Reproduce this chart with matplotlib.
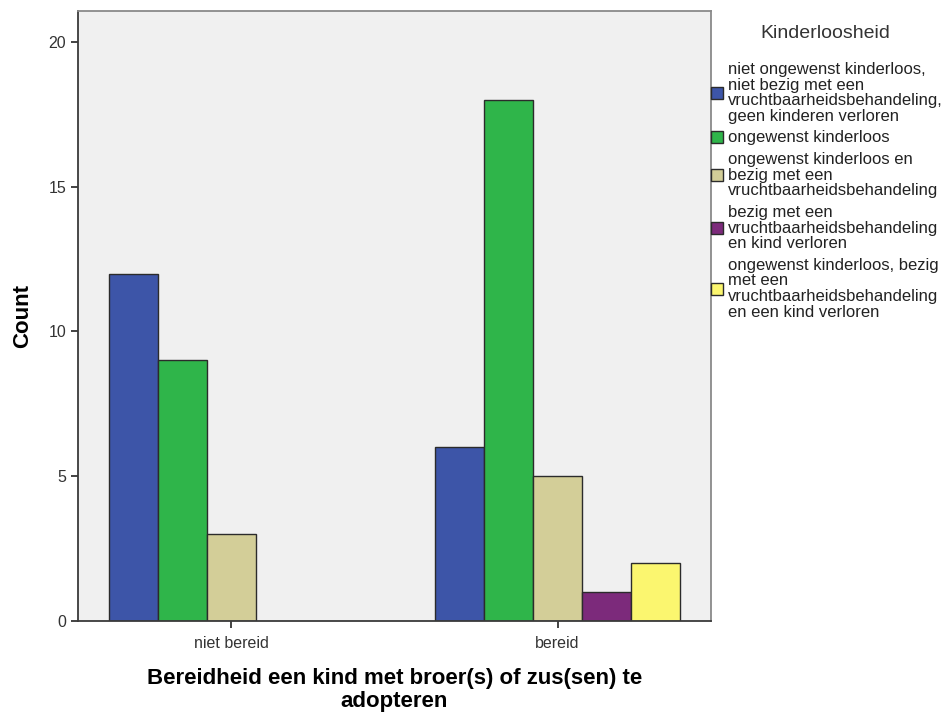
import numpy as np
import matplotlib.pyplot as plt
from matplotlib.patches import Patch

plt.rcParams['font.family'] = ['Liberation Sans', 'DejaVu Sans']

categories = ['niet bereid', 'bereid']
series_labels = [
    'niet ongewenst kinderloos,\nniet bezig met een\nvruchtbaarheidsbehandeling,\ngeen kinderen verloren',
    'ongewenst kinderloos',
    'ongewenst kinderloos en\nbezig met een\nvruchtbaarheidsbehandeling',
    'bezig met een\nvruchtbaarheidsbehandeling\nen kind verloren',
    'ongewenst kinderloos, bezig\nmet een\nvruchtbaarheidsbehandeling\nen een kind verloren',
]
niet_ongewenst = [12, 6]
ongewenst = [9, 18]
ongewenst_behandeling = [3, 5]
behandeling_verloren = [0, 1]
alles = [0, 2]
colors = ['#3d55a8', '#2fb54a', '#d3ce98', '#7c2a7b', '#fbf66f']

series = [niet_ongewenst, ongewenst, ongewenst_behandeling, behandeling_verloren, alles]

fig = plt.figure(figsize=(9.46, 7.16), dpi=100)
ax = fig.add_axes([78/946, 1 - 621/716, (711-78)/946, (621-11)/716])
ax.set_facecolor('#f0f0f0')

x = np.arange(len(categories))
w = 0.15
for i, (vals, c) in enumerate(zip(series, colors)):
    vals = np.array(vals)
    mask = vals > 0
    ax.bar(x[mask] + (i - 2) * w, vals[mask], width=w, color=c,
           edgecolor='#2b2b2b', linewidth=1)

ax.set_xlim(-0.47, 1.47)
ax.set_ylim(0, 21.07)
ax.set_yticks([0, 5, 10, 15, 20])
ax.set_xticks(x)
ax.set_xticklabels(categories)
ax.tick_params(axis='both', labelsize=11.5, labelcolor='#333333', color='#222222',
               length=5, width=1.2)
ax.tick_params(axis='x', pad=6)

for s in ['left', 'bottom']:
    ax.spines[s].set_color('#3a3a3a')
    ax.spines[s].set_linewidth(1.3)
for s in ['top', 'right']:
    ax.spines[s].set_color('#8a8a8a')
    ax.spines[s].set_linewidth(1.3)

ax.set_ylabel('Count', fontsize=16, fontweight='bold', labelpad=11)
ax.set_xlabel('Bereidheid een kind met broer(s) of zus(sen) te\nadopteren',
              fontsize=16, fontweight='bold', linespacing=1.1, labelpad=12)

# legend title drawn separately so the gap to the entries matches
fig.text(825/946, 1 - 33/716, 'Kinderloosheid', fontsize=14, color='#333333',
         ha='center', va='center')
handles = [Patch(facecolor=c, edgecolor='#2b2b2b', linewidth=1) for c in colors]
leg = fig.legend(handles, series_labels, loc='upper left',
                 bbox_to_anchor=(711/946, 1 - 62/716), borderaxespad=0,
                 frameon=False, fontsize=12, handlelength=0.72, handleheight=0.72,
                 handletextpad=0.3, labelspacing=0.4, borderpad=0)
for t in leg.get_texts():
    t.set_linespacing(1.05)
    t.set_color('#222222')

fig.savefig('out.png', dpi=100)
